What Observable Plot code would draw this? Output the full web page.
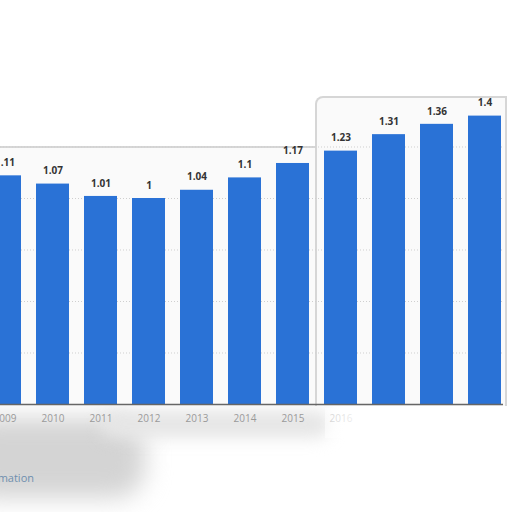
<!DOCTYPE html>
<html><head><meta charset="utf-8">
<script src="https://cdn.jsdelivr.net/npm/d3@7"></script>
<script src="https://cdn.jsdelivr.net/npm/@observablehq/plot@0.6"></script>
<style>
html,body{margin:0;padding:0;background:#fff;width:512px;height:512px;overflow:hidden;font-family:"Open Sans",sans-serif;}
#wrap{position:relative;width:512px;height:512px;}
#shade{position:absolute;left:-40px;top:418px;width:185px;height:80px;background:#d4d4d4;filter:blur(12px);border-radius:30px;}
#shade2{position:absolute;left:100px;top:410px;width:230px;height:28px;background:#e6e6e6;filter:blur(8px);border-radius:14px;}
#info{position:absolute;left:-82px;top:470px;font-size:11px;color:#6f8fae;}
#chart{position:absolute;left:0;top:0;}
#fade{position:absolute;left:325px;top:408px;width:200px;height:30px;background:linear-gradient(to right, rgba(255,255,255,0.55), #fff 45px);}
#f1{position:absolute;left:-5px;top:146px;width:322px;height:258px;background:#fafafa;border-top:2px solid #d6d6d6;}
#f2{position:absolute;left:315px;top:96px;width:188px;height:308px;background:#fafafa;border-top:2px solid #d6d6d6;border-left:2px solid #d6d6d6;border-right:2px solid #d6d6d6;border-top-left-radius:8px;}
</style></head>
<body><div id="wrap"><div id="shade"></div><div id="shade2"></div><div id="f1"></div><div id="f2"></div><div id="info">Additional Information</div><div id="chart"></div><div id="fade"></div></div>
<script>
const years = ["2009","2010","2011","2012","2013","2014","2015","2016","2017","2018","2019"];
const values = [1.11, 1.07, 1.01, 1, 1.04, 1.1, 1.17, 1.23, 1.31, 1.36, 1.4];
const gridTicks = [0.25, 0.5, 0.75, 1, 1.25];
const data = years.map((y, i) => ({year: y, value: values[i]}));

const chart = Plot.plot({
  width: 512,
  height: 512,
  marginTop: 0, marginBottom: 0, marginLeft: 0, marginRight: 0,
  style: {background: "transparent", fontFamily: "Open Sans, sans-serif"},
  x: {domain: years, range: [-27, 516], padding: 0.3125, axis: null},
  y: {domain: [0, 1.5], range: [404, 95], axis: null},
  marks: [
    Plot.ruleY(gridTicks, {stroke: "#cfcfcf", strokeDasharray: "1,2", insetRight: 9}),
    Plot.barY(data, {x: "year", y: "value", fill: "#2a72d6"}),
    Plot.text(data, {x: "year", y: "value", text: d => String(d.value), dy: -13, fontSize: 10, fontWeight: "bold", fill: "#333"}),
    Plot.text(years, {x: d => d, y: 0, dy: 14, text: d => d, fontSize: 10, fill: "#9a9a9a"}),
    Plot.ruleY([0], {stroke: "#666", strokeWidth: 1.5, insetRight: 9})
  ]
});
document.getElementById("chart").appendChild(chart);
</script></body></html>
